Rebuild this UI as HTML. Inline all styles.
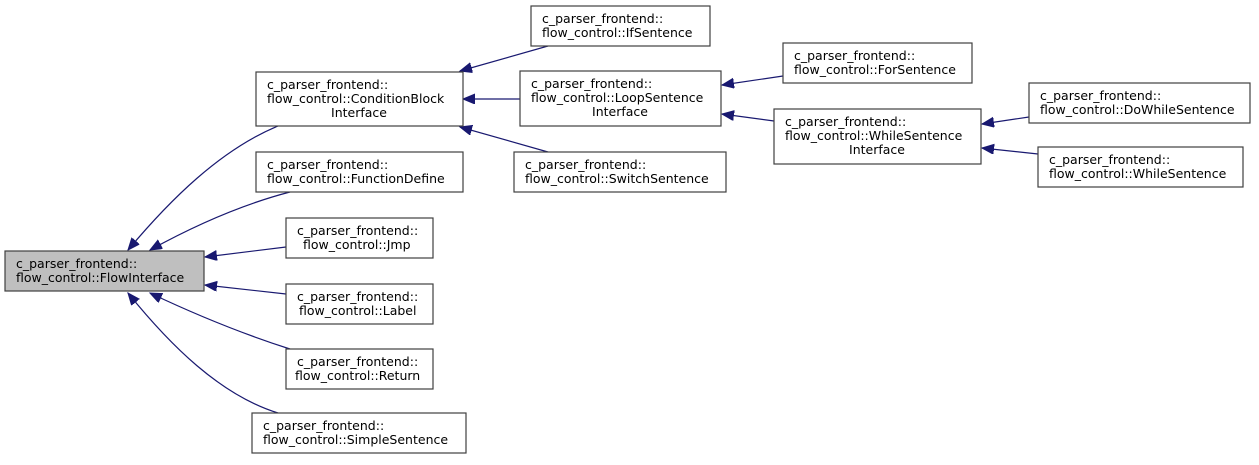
<!DOCTYPE html>
<html><head><meta charset="utf-8"><style>
body{margin:0;background:#fff}
svg text{font-family:"DejaVu Sans","Liberation Sans",sans-serif;font-size:12.5px;fill:#000}
</style></head><body>
<svg width="1259" height="460" viewBox="0 0 1259 460" xmlns="http://www.w3.org/2000/svg">
<defs><marker id="a" markerWidth="14" markerHeight="12" refX="12" refY="5" orient="auto" markerUnits="userSpaceOnUse"><path d="M0,0 L12,5 L0,10 Z" fill="#191970" stroke="#191970"/></marker></defs>
<g fill="none" stroke="#191970" stroke-width="1.2" marker-end="url(#a)">
<path d="M278,126 C220,150 170,200 128,250"/>
<path d="M290,192 C240,205 190,228 150,250"/>
<path d="M286,247 L205,257"/>
<path d="M286,294 L205,285"/>
<path d="M290,349 C240,333 190,312 150,293"/>
<path d="M278,413 C220,395 170,345 128,293"/>
<path d="M548,46 L460,71"/>
<path d="M520,99 L463,99"/>
<path d="M548,152 L460,127"/>
<path d="M783,76 L722,85"/>
<path d="M774,121 L722,114"/>
<path d="M1029,117 L982,124"/>
<path d="M1038,154 L982,148"/>
</g>
<g stroke="#404040" stroke-width="1.2" fill="#fff">
<rect x="5" y="251" width="199" height="40" fill="#bfbfbf"/>
<rect x="256" y="72" width="207" height="54"/>
<rect x="256" y="152" width="207" height="40"/>
<rect x="286" y="218" width="147" height="40"/>
<rect x="286" y="284" width="147" height="40"/>
<rect x="286" y="349" width="147" height="40"/>
<rect x="252" y="413" width="214" height="40"/>
<rect x="531" y="6" width="179" height="40"/>
<rect x="520" y="71" width="201" height="55"/>
<rect x="514" y="152" width="212" height="40"/>
<rect x="783" y="43" width="189" height="40"/>
<rect x="774" y="109" width="207" height="55"/>
<rect x="1029" y="83" width="221" height="40"/>
<rect x="1038" y="147" width="205" height="40"/>
</g>
<g>
<text x="16" y="268">c_parser_frontend::</text><text x="16" y="282">flow_control::FlowInterface</text>
<text x="267" y="89">c_parser_frontend::</text><text x="267" y="103">flow_control::ConditionBlock</text><text x="359" y="117" text-anchor="middle">Interface</text>
<text x="267" y="169">c_parser_frontend::</text><text x="267" y="183">flow_control::FunctionDefine</text>
<text x="297" y="235">c_parser_frontend::</text><text x="303" y="249">flow_control::Jmp</text>
<text x="297" y="301">c_parser_frontend::</text><text x="299" y="315">flow_control::Label</text>
<text x="297" y="366">c_parser_frontend::</text><text x="295" y="380">flow_control::Return</text>
<text x="263" y="430">c_parser_frontend::</text><text x="263" y="444">flow_control::SimpleSentence</text>
<text x="542" y="23">c_parser_frontend::</text><text x="542" y="37">flow_control::IfSentence</text>
<text x="531" y="88">c_parser_frontend::</text><text x="531" y="102">flow_control::LoopSentence</text><text x="620" y="116" text-anchor="middle">Interface</text>
<text x="525" y="169">c_parser_frontend::</text><text x="525" y="183">flow_control::SwitchSentence</text>
<text x="794" y="60">c_parser_frontend::</text><text x="794" y="74">flow_control::ForSentence</text>
<text x="785" y="126">c_parser_frontend::</text><text x="785" y="140">flow_control::WhileSentence</text><text x="877" y="154" text-anchor="middle">Interface</text>
<text x="1040" y="100">c_parser_frontend::</text><text x="1040" y="114">flow_control::DoWhileSentence</text>
<text x="1049" y="164">c_parser_frontend::</text><text x="1049" y="178">flow_control::WhileSentence</text>
</g>
</svg>
</body></html>
